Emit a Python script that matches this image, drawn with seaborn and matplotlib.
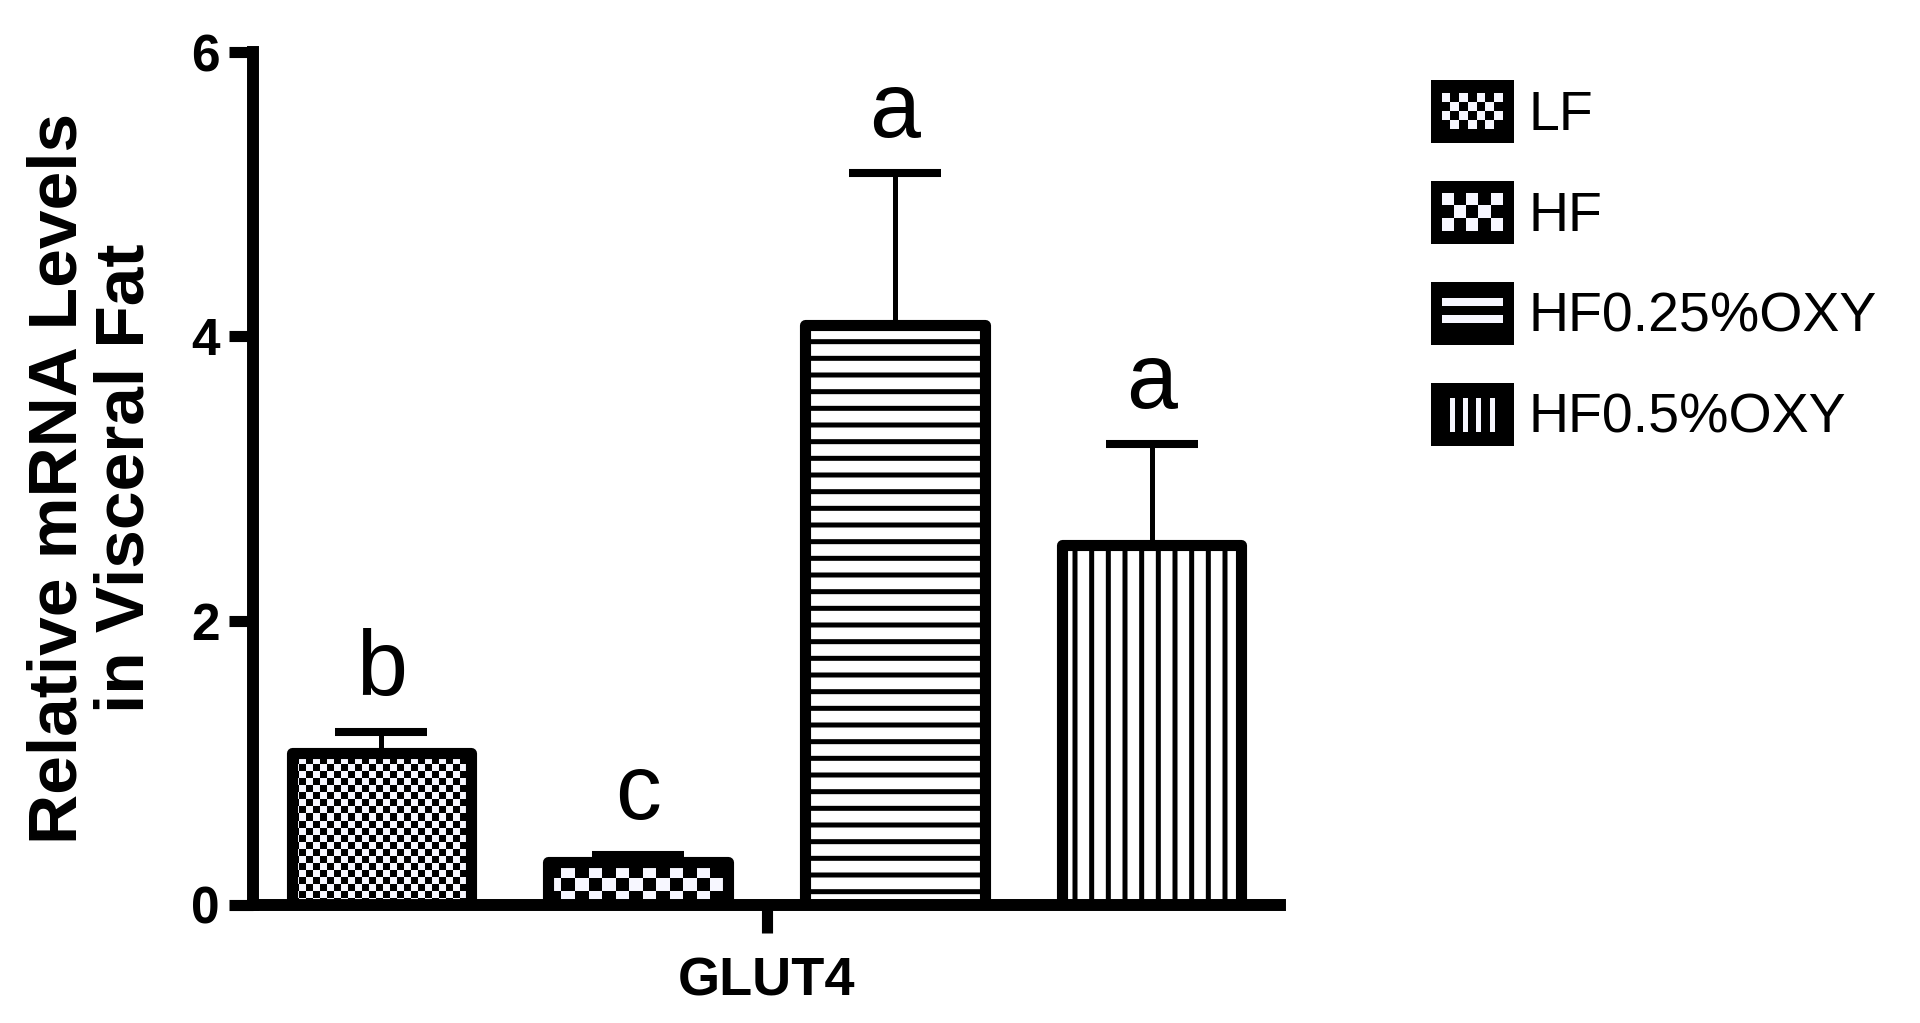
import numpy as np
import pandas as pd
import matplotlib
matplotlib.use('Agg')
import matplotlib.pyplot as plt
import seaborn as sns
from matplotlib.patches import Rectangle
from matplotlib.colors import ListedColormap
from matplotlib.font_manager import FontProperties
from matplotlib.legend_handler import HandlerBase

# data
groups = ['LF', 'HF', 'HF0.25%OXY', 'HF0.5%OXY']
means = [1.07, 0.30, 4.08, 2.53]
errors = [0.15, 0.05, 1.07, 0.71]
letters = ['b', 'c', 'a', 'a']
gene = 'GLUT4'
yticks = [0, 2, 4, 6]

FONT = ['Liberation Sans', 'DejaVu Sans']
patterns = ['fine', 'coarse', '-', '|']
WHITE = '#f7f7ff'

sns.set_style('white')
plt.rcParams['font.family'] = FONT
plt.rcParams.update({'text.color': 'black', 'axes.labelcolor': 'black',
                     'xtick.color': 'black', 'ytick.color': 'black'})
plt.rcParams['hatch.linewidth'] = 3.6
plt.rcParams['hatch.color'] = 'black'

fig = plt.figure(figsize=(19.2, 10.23), dpi=100)
ax = fig.add_axes([253 / 1920, 1 - 905 / 1023, (1280 - 253) / 1920, (905 - 52) / 1023])

df = pd.DataFrame({'gene': [gene] * len(groups), 'group': groups, 'value': means})
sns.barplot(data=df, x='gene', y='value', hue='group', hue_order=groups,
            palette=['white'] * len(groups), saturation=1, edgecolor='black',
            linewidth=8, errorbar=None, width=0.8, gap=0.3, legend=False, ax=ax)

ax.set_xlim(-0.4, 0.4)
ax.set_ylim(0, 6)

bars = sorted(ax.patches, key=lambda p: p.get_x())
centers = [p.get_x() + p.get_width() / 2 for p in bars]

pos = ax.get_position()
px_x = pos.width * fig.get_figwidth() * fig.dpi / 0.8
px_y = pos.height * fig.get_figheight() * fig.dpi / 6


def checker(patch, cell_w, cell_h):
    """Fill a bar with a checkerboard texture clipped to the bar."""
    x0, y0 = patch.get_x(), patch.get_y()
    w, h = patch.get_width(), patch.get_height()
    dx, dy = cell_w / px_x, cell_h / px_y
    nx, ny = int(np.ceil(w / dx)), int(np.ceil(h / dy))
    board = np.indices((ny, nx)).sum(axis=0) % 2
    im = ax.imshow(board, cmap=ListedColormap(['black', WHITE]),
                   extent=[x0, x0 + nx * dx, y0, y0 + ny * dy], origin='lower',
                   aspect='auto', interpolation='nearest',
                   zorder=patch.get_zorder() - 0.01)
    im.set_clip_path(patch)
    patch.set_facecolor('none')


for patch, pat in zip(bars, patterns):
    patch.set_joinstyle('round')
    if pat == 'fine':
        checker(patch, 7, 7)
    elif pat == 'coarse':
        checker(patch, 13.5, 13.5)
    else:
        patch.set_hatch(pat)

ax.set_xlim(-0.4, 0.4)
ax.set_ylim(0, 6)

# upper error bars only
ax.errorbar(centers, means, yerr=[np.zeros(len(means)), errors], fmt='none',
            ecolor='black', elinewidth=3.6, capsize=33, capthick=5.8, zorder=0.9)

for c, m, e, lab in zip(centers, means, errors, letters):
    ax.annotate(lab, xy=(c, m + e), xytext=(0, 26), textcoords='offset points',
                ha='center', va='baseline', fontsize=66, color='black')

# axes styling
sns.despine(ax=ax)
for side in ['left', 'bottom']:
    ax.spines[side].set_linewidth(8.6)
    ax.spines[side].set_color('black')
ax.set_yticks(yticks)
ax.set_yticklabels([str(t) for t in yticks])
ax.tick_params(axis='y', left=True, length=17, width=8, pad=7, direction='out', color='black')
ax.tick_params(axis='x', bottom=True, length=20, width=8, pad=17, direction='out', color='black')
for lab in ax.get_yticklabels():
    lab.set_fontproperties(FontProperties(family=FONT, weight='bold', size=37))
for lab in ax.get_xticklabels():
    lab.set_fontproperties(FontProperties(family=FONT, weight='bold', size=39))
ax.set_xlabel('')
ax.set_ylabel('')

fig.text(92 / 1920, 1 - 478 / 1023, 'Relative mRNA Levels\nin Visceral Fat',
         rotation=90, ha='center', va='center', multialignment='center',
         fontsize=50, fontweight='bold', linespacing=1.05, color='black')


# legend with drawn pattern swatches
class PatternHandler(HandlerBase):
    def create_artists(self, legend, orig_handle, xdescent, ydescent,
                       width, height, fontsize, trans):
        x0, y0 = -xdescent, -ydescent
        kind = orig_handle.get_gid()
        arts = [Rectangle((x0, y0), width, height, facecolor='black',
                          edgecolor='none', transform=trans)]

        def box(fx0, fx1, ft0, ft1):
            return Rectangle((x0 + width * fx0, y0 + height * (1 - ft1)),
                             width * (fx1 - fx0), height * (ft1 - ft0),
                             facecolor=WHITE, edgecolor='none', transform=trans)

        if kind in ('fine', 'coarse'):
            nx, ny, t0, t1 = (7, 4, 0.205, 0.77) if kind == 'fine' else (5, 3, 0.19, 0.79)
            fx = np.linspace(0.127, 0.861, nx + 1)
            ft = np.linspace(t0, t1, ny + 1)
            for j in range(ny):
                for i in range(nx):
                    if (i + j) % 2 == 0:
                        arts.append(box(fx[i], fx[i + 1], ft[j], ft[j + 1]))
        elif kind == '-':
            arts.append(box(0.127, 0.861, 0.255, 0.385))
            arts.append(box(0.127, 0.861, 0.53, 0.66))
        else:
            for fx0 in [0.226, 0.385, 0.544, 0.702]:
                arts.append(box(fx0, fx0 + 0.06, 0.24, 0.78))
        return arts


handles = []
for pat in patterns:
    h = Rectangle((0, 0), 1, 1)
    h.set_gid(pat)
    handles.append(h)

fig.legend(handles, groups, handler_map={h: PatternHandler() for h in handles},
           loc='upper left', bbox_to_anchor=(1431 / 1920, 1 - 80 / 1023),
           frameon=False, borderpad=0, borderaxespad=0, handlelength=1.5,
           handleheight=1.37, handletextpad=0.25, labelspacing=0.68,
           prop=FontProperties(family=FONT, size=40))

fig.savefig('out.png', dpi=100)
